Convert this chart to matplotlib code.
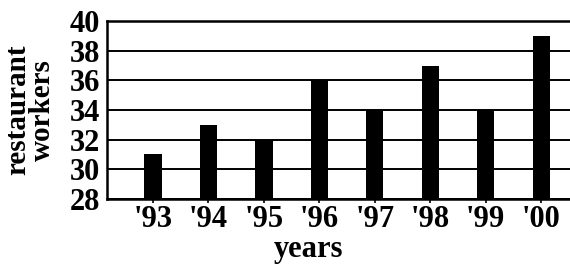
import matplotlib
matplotlib.use("Agg")
import matplotlib.pyplot as plt
import numpy as np

years = ["'93", "'94", "'95", "'96", "'97", "'98", "'99", "'00"]
workers = [31, 33, 32, 36, 34, 37, 34, 39]
yticks = [28, 30, 32, 34, 36, 38, 40]

plt.rcParams['font.family'] = ['Liberation Serif', 'DejaVu Serif']
plt.rcParams['font.weight'] = 'bold'

fig = plt.figure(figsize=(5.7, 2.64), dpi=100)
ax = fig.add_axes([107/570, 1 - 199/264, (570-107)/570, (199-21)/264])

x = np.arange(len(years))
ax.bar(x, workers, width=0.31, color='black', zorder=3)
ax.set_ylim(28, 40)
ax.set_xlim(-0.83, 7.52)
ax.set_yticks(yticks)
ax.set_yticklabels([str(v) for v in yticks], fontsize=22, fontweight='bold')
ax.set_xticks(x)
ax.set_xticklabels(years, fontsize=22, fontweight='bold')
ax.yaxis.grid(True, color='black', linewidth=1.4, zorder=1)
ax.set_axisbelow(True)
ax.tick_params(axis='y', length=0, pad=5)
ax.tick_params(axis='x', length=3, width=1.2, pad=1, color='black')
for s in ['left', 'bottom', 'top']:
    ax.spines[s].set_linewidth(1.8)
ax.spines['right'].set_visible(False)

ax.set_ylabel("restaurant\nworkers", fontsize=21, fontweight='bold', linespacing=0.88)
ax.yaxis.set_label_coords(-0.11, 0.5)
ax.set_xlabel("years", fontsize=22, fontweight='bold')
ax.xaxis.set_label_coords(0.436, -0.205)

fig.savefig("out.png", dpi=100)
